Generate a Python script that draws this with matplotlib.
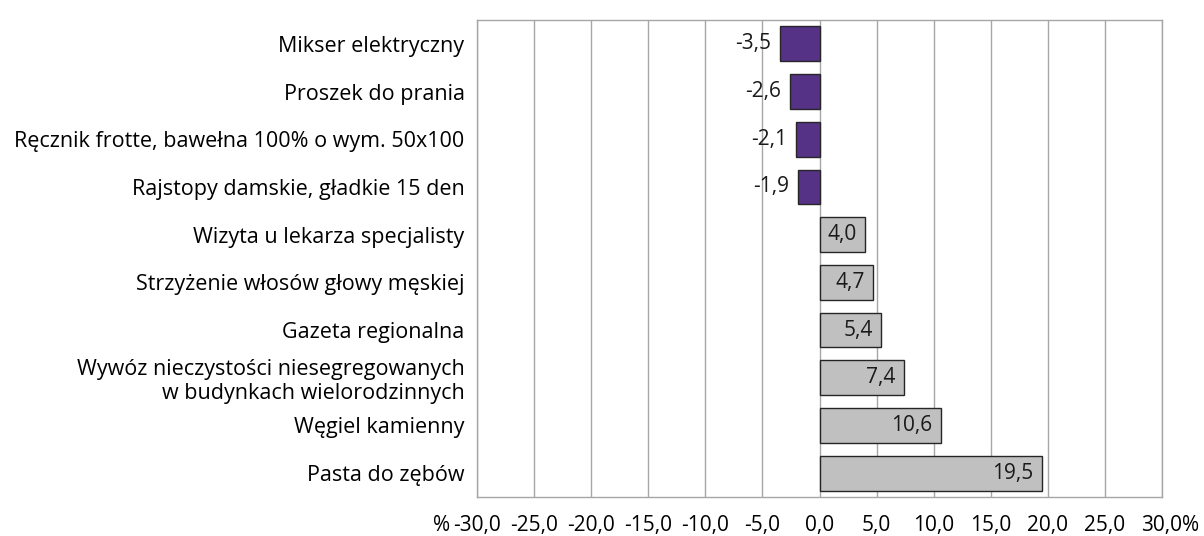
import matplotlib.pyplot as plt
import numpy as np

categories = [
    "Mikser elektryczny",
    "Proszek do prania",
    "Ręcznik frotte, bawełna 100% o wym. 50x100",
    "Rajstopy damskie, gładkie 15 den",
    "Wizyta u lekarza specjalisty",
    "Strzyżenie włosów głowy męskiej",
    "Gazeta regionalna",
    "Wywóz nieczystości niesegregowanych\nw budynkach wielorodzinnych",
    "Węgiel kamienny",
    "Pasta do zębów",
]
values = [-3.5, -2.6, -2.1, -1.9, 4.0, 4.7, 5.4, 7.4, 10.6, 19.5]
xticks = [-30, -25, -20, -15, -10, -5, 0, 5, 10, 15, 20, 25, 30]

plt.rcParams['font.family'] = ['Open Sans', 'DejaVu Sans']

fig = plt.figure(figsize=(12.04, 5.36), dpi=100)
ax = fig.add_axes([477 / 1204, 39 / 536, 685 / 1204, 477 / 536])

y = np.arange(len(categories))
colors = ['#553285' if v < 0 else '#c0c0c0' for v in values]
ax.barh(y, values, height=0.73, color=colors, edgecolor='#262626', linewidth=1, zorder=3)

for yi, v in zip(y, values):
    txt = f"{v:.1f}".replace('.', ',')
    ax.annotate(txt, (v, yi), xytext=(-6, 0), textcoords='offset points',
                ha='right', va='center', fontsize=15, color='#1a1a1a', zorder=4)

ax.set_ylim(len(categories) - 0.5, -0.5)
ax.set_xlim(-30, 30)
ax.set_yticks(y)
ax.set_yticklabels(categories, fontsize=15.5, ha='right', linespacing=1.2)
ax.set_xticks(xticks)
ax.set_xticklabels([f"{t:.1f}".replace('.', ',') for t in xticks], fontsize=15)
ax.tick_params(axis='y', length=0, pad=9)
ax.tick_params(axis='x', length=0, pad=13)
ax.xaxis.grid(True, color='#a6a6a6', linewidth=1, zorder=0)
for s in ax.spines.values():
    s.set_color('#a6a6a6')
    s.set_linewidth(1)

# percent signs at both ends of the axis
ax.annotate('%', (-30, 0), xycoords=('data', 'axes fraction'), xytext=(-19.5, -13),
            textcoords='offset points', ha='right', va='top', fontsize=15)
ax.annotate('%', (30, 0), xycoords=('data', 'axes fraction'), xytext=(14.5, -13),
            textcoords='offset points', ha='left', va='top', fontsize=15)

fig.savefig('out.png', dpi=100)
